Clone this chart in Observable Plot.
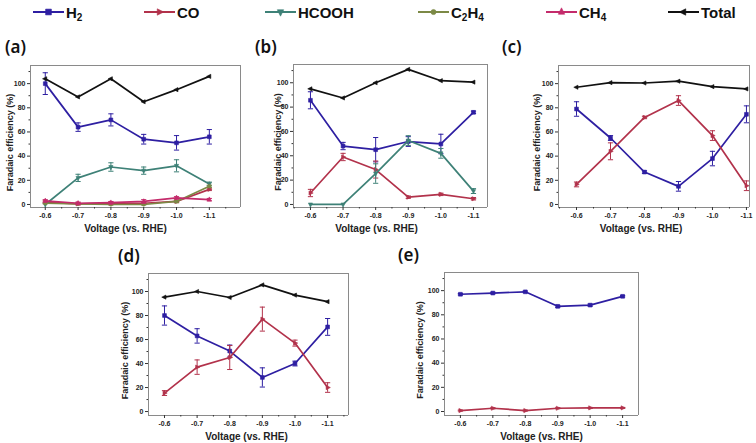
<!DOCTYPE html>
<html><head><meta charset="utf-8">
<script src="https://cdn.jsdelivr.net/npm/d3@7"></script>
<script src="https://cdn.jsdelivr.net/npm/@observablehq/plot@0.6"></script>
<style>
body{margin:0;background:#fff;}
#root{position:relative;width:756px;height:443px;overflow:hidden;background:#fff;font-family:"Liberation Sans",Arial,sans-serif;}
.panel{position:absolute;}
.plabel{position:absolute;font-family:"Noto Sans",sans-serif;font-size:17px;font-weight:600;line-height:17px;color:#111;}
.leg{position:absolute;top:0;height:24px;display:flex;align-items:center;font-family:"Liberation Sans",Arial,sans-serif;font-weight:bold;font-size:15px;color:#111;}
.leg sub{font-size:10px;vertical-align:-3px;line-height:0;}
.leg svg{margin-right:2px;}
</style></head><body><div id="root"></div>
<script>
// ---------- data ----------
const voltages = [-0.6, -0.7, -0.8, -0.9, -1.0, -1.1];
const xMinorTicks = [-0.55, -0.65, -0.75, -0.85, -0.95, -1.05, -1.15];
const yMajorTicks = [0, 20, 40, 60, 80, 100];
const yMinorTicks = [10, 30, 50, 70, 90, 110];
const seriesNames = ["H2", "CO", "HCOOH", "C2H4", "CH4", "Total"];
const seriesColors = ["#2e1fa2", "#b2324b", "#3e8177", "#7c8946", "#c42b6b", "#111111"];
const panelLetters = ["(a)", "(b)", "(c)", "(d)", "(e)"];
const yLabelText = "Faradaic efficiency (%)";
const xLabelText = "Voltage (vs. RHE)";

// panel (a)
const aH2 = [100, 64, 70, 54, 51, 56];      const aH2Err = [9, 3.5, 5, 4, 6, 6];
const aCO = [2, 0.5, 1, 1, 2.5, 12.5];      const aCOErr = [1, 1, 1, 1, 1, 1];
const aHCOOH = [0, 22, 31, 28, 32, 17];     const aHCOOHErr = [0, 3, 3.5, 3, 5, 1.5];
const aC2H4 = [1, 0.5, 0, 0, 2.5, 15];      const aC2H4Err = [0.5, 0.5, 0.5, 0.5, 1, 1];
const aCH4 = [3, 1, 1.5, 2.5, 5.5, 4];      const aCH4Err = [1, 1, 1, 1.5, 1, 1];
const aTotal = [104, 89, 104, 85, 95, 106];
// panel (b)
const bH2 = [85.6, 48, 45, 51.7, 49.7, 75.7];  const bH2Err = [7, 3, 10, 4, 8, 1];
const bCO = [9.4, 39, 28.7, 6, 8.3, 4.7];      const bCOErr = [3, 3, 7, 1, 1, 1];
const bHCOOH = [0, 0, 25.4, 52.5, 42, 11];     const bHCOOHErr = [0, 0, 8, 4, 4, 2];
const bTotal = [95, 87.5, 100, 111, 101.7, 100.5];
// panel (c)
const cH2 = [79, 55, 26.8, 15, 38, 74.6];      const cH2Err = [6, 2, 1, 4, 6, 7];
const cCO = [16.6, 44, 72, 86, 57, 15.5];      const cCOErr = [2, 7, 1, 4, 4, 4];
const cTotal = [97, 100.8, 100.5, 102, 97.5, 95.6];
// panel (d)
const dH2 = [80, 63, 50.4, 28.4, 40, 70.5];    const dH2Err = [8, 6, 5, 8, 2, 7];
const dCO = [15.4, 37, 45, 77, 57, 20];        const dCOErr = [2, 6, 10, 10, 2.5, 4];
const dTotal = [95.3, 100, 95, 105.5, 97, 91.5];
// panel (e)
const eH2 = [97, 98, 99, 87, 88, 95.3];        const eH2Err = [0.6, 0.6, 0.6, 0.8, 0.8, 0.6];
const eCO = [0.8, 2.7, 0.8, 2.7, 3, 3];        const eCOErr = [0.4, 0.4, 0.4, 0.4, 0.4, 0.4];

// ---------- symbols ----------
const rad = size => Math.sqrt(size / Math.PI);
const triRight = {draw(c, s){const r = rad(s); c.moveTo(r*1.3,0); c.lineTo(-r*0.7,-r); c.lineTo(-r*0.7,r); c.closePath();}};
const triLeft  = {draw(c, s){const r = rad(s); c.moveTo(-r*1.3,0); c.lineTo(r*0.7,-r); c.lineTo(r*0.7,r); c.closePath();}};
const triDown  = {draw(c, s){const r = rad(s); c.moveTo(0,r*1.3); c.lineTo(-r,-r*0.7); c.lineTo(r,-r*0.7); c.closePath();}};
const triUp    = {draw(c, s){const r = rad(s); c.moveTo(0,-r*1.3); c.lineTo(-r,r*0.7); c.lineTo(r,r*0.7); c.closePath();}};
const sq       = {draw(c, s){const r = rad(s)*0.9; c.rect(-r,-r,2*r,2*r);}};
const circ     = {draw(c, s){const r = rad(s)*0.8; c.moveTo(r,0); c.arc(0,0,r,0,2*Math.PI);}};
const cap      = {draw(c, s){const r = rad(s); c.moveTo(-r,0); c.lineTo(r,0);}};
const seriesSymbols = [sq, triRight, triDown, circ, triUp, triLeft];

// ---------- panels ----------
const panels = [
  {left:0,   top:40,  width:250, height:200, ml:30, mr:10, mt:25, mb:33, xdom:[-0.555,-1.195], ydom:[-2.5,115], ylx:-20, xlx:-10,
   series:{H2:[aH2,aH2Err], CO:[aCO,aCOErr], HCOOH:[aHCOOH,aHCOOHErr], C2H4:[aC2H4,aC2H4Err], CH4:[aCH4,aCH4Err], Total:[aTotal,null]},
   lab:[5,38]},
  {left:250, top:40,  width:250, height:200, ml:43, mr:13, mt:24, mb:33, xdom:[-0.548,-1.143], ydom:[-2.5,115], ylx:-15, xlx:-14,
   series:{H2:[bH2,bH2Err], CO:[bCO,bCOErr], HCOOH:[bHCOOH,bHCOOHErr], Total:[bTotal,null]},
   lab:[255,38]},
  {left:500, top:40,  width:256, height:200, ml:58, mr:7,  mt:25, mb:33, xdom:[-0.547,-1.109], ydom:[-2.5,115], ylx:-21, xlx:-13,
   series:{H2:[cH2,cH2Err], CO:[cCO,cCOErr], Total:[cTotal,null]},
   lab:[502,38]},
  {left:100, top:215, width:270, height:228, ml:48, mr:22, mt:58, mb:28, xdom:[-0.551,-1.164], ydom:[-3.3,115], ylx:-23, xlx:-2,
   series:{H2:[dH2,dH2Err], CO:[dCO,dCOErr], Total:[dTotal,null]},
   lab:[118,247]},
  {left:380, top:215, width:270, height:228, ml:64, mr:12, mt:57, mb:28, xdom:[-0.551,-1.149], ydom:[-3.3,115], ylx:-24, xlx:0,
   series:{H2:[eH2,eH2Err], CO:[eCO,eCOErr]},
   lab:[398,246]}
];

const root = document.getElementById("root");

panels.forEach((p, pi) => {
  const marks = [
    Plot.ruleY([p.ydom[0], p.ydom[1]], {stroke:"#8a8a8a", strokeWidth:1}),
    Plot.ruleX([p.xdom[0], p.xdom[1]], {stroke:"#8a8a8a", strokeWidth:1}),
    Plot.axisY(yMajorTicks, {tickSize:3, tickPadding:2, tickFormat:d => String(d), label:null, fontSize:7, fontWeight:"bold", stroke:"#333", fill:"#222"}),
    Plot.axisY(yMinorTicks, {tickSize:1.5, tickFormat:() => "", label:null, stroke:"#333"}),
    Plot.axisX(voltages, {tickSize:3, tickPadding:3, tickFormat:d => d.toFixed(1), label:null, fontSize:7, fontWeight:"bold", stroke:"#333", fill:"#222"}),
    Plot.axisX(xMinorTicks.filter(v => v <= p.xdom[0] && v >= p.xdom[1]), {tickSize:1.5, tickFormat:() => "", label:null, stroke:"#333"})
  ];
  Object.entries(p.series).forEach(([name, [vals, errs]]) => {
    const si = seriesNames.indexOf(name);
    const color = seriesColors[si];
    const rows = voltages.map((x, i) => ({x, y: vals[i], e: errs ? errs[i] : 0}));
    const erows = rows.filter(d => d.e > 0);
    marks.push(Plot.ruleX(erows, {x:"x", y1:d => d.y - d.e, y2:d => d.y + d.e, stroke:color, strokeWidth:1}));
    marks.push(Plot.dot(erows, {x:"x", y:d => d.y - d.e, symbol:cap, r:2.6, stroke:color, fill:"none", strokeWidth:1}));
    marks.push(Plot.dot(erows, {x:"x", y:d => d.y + d.e, symbol:cap, r:2.6, stroke:color, fill:"none", strokeWidth:1}));
    marks.push(Plot.line(rows, {x:"x", y:"y", stroke:color, strokeWidth:1.7}));
    marks.push(Plot.dot(rows, {x:"x", y:"y", symbol:seriesSymbols[si], r:2.1, fill:color, stroke:color, strokeWidth:0.6}));
  });
  marks.push(Plot.text([yLabelText], {text:d => d, frameAnchor:"left", textAnchor:"middle", lineAnchor:"middle", dx:p.ylx, dy:6, rotate:-90, fontSize:9, fontWeight:"bold", fill:"#222"}));
  marks.push(Plot.text([xLabelText], {text:d => d, frameAnchor:"bottom", textAnchor:"middle", lineAnchor:"middle", dy:21, dx:p.xlx, fontSize:10, fontWeight:"bold", fill:"#222"}));

  const svg = Plot.plot({
    width:p.width, height:p.height,
    marginLeft:p.ml, marginRight:p.mr, marginTop:p.mt, marginBottom:p.mb,
    x:{type:"linear", domain:p.xdom},
    y:{type:"linear", domain:p.ydom},
    style:{fontFamily:"'Liberation Sans', Arial, sans-serif", background:"transparent", color:"#222", overflow:"visible"},
    marks
  });
  const wrap = document.createElement("div");
  wrap.className = "panel";
  wrap.style.left = p.left + "px";
  wrap.style.top = p.top + "px";
  wrap.appendChild(svg);
  root.appendChild(wrap);

  const lab = document.createElement("div");
  lab.className = "plabel";
  lab.textContent = panelLetters[pi];
  lab.style.left = p.lab[0] + "px";
  lab.style.top = p.lab[1] + "px";
  root.appendChild(lab);
});

// ---------- legend ----------
const legendX = [33, 144, 265, 418, 546, 668];
const legendHTML = ["H<sub>2</sub>", "CO", "HCOOH", "C<sub>2</sub>H<sub>4</sub>", "CH<sub>4</sub>", "Total"];
seriesNames.forEach((name, i) => {
  const item = document.createElement("div");
  item.className = "leg";
  item.style.left = legendX[i] + "px";
  const s = d3.create("svg").attr("width", 31).attr("height", 12);
  s.append("line").attr("x1", 0).attr("x2", 31).attr("y1", 6).attr("y2", 6).attr("stroke", seriesColors[i]).attr("stroke-width", 2);
  s.append("path").attr("transform", "translate(15.5,6)").attr("d", d3.symbol(seriesSymbols[i], Math.PI * 3.2 * 3.2)())
    .attr("fill", seriesColors[i]).attr("stroke", seriesColors[i]).attr("stroke-width", 0.6);
  item.appendChild(s.node());
  const t = document.createElement("span");
  t.innerHTML = legendHTML[i];
  item.appendChild(t);
  root.appendChild(item);
});
</script></body></html>
